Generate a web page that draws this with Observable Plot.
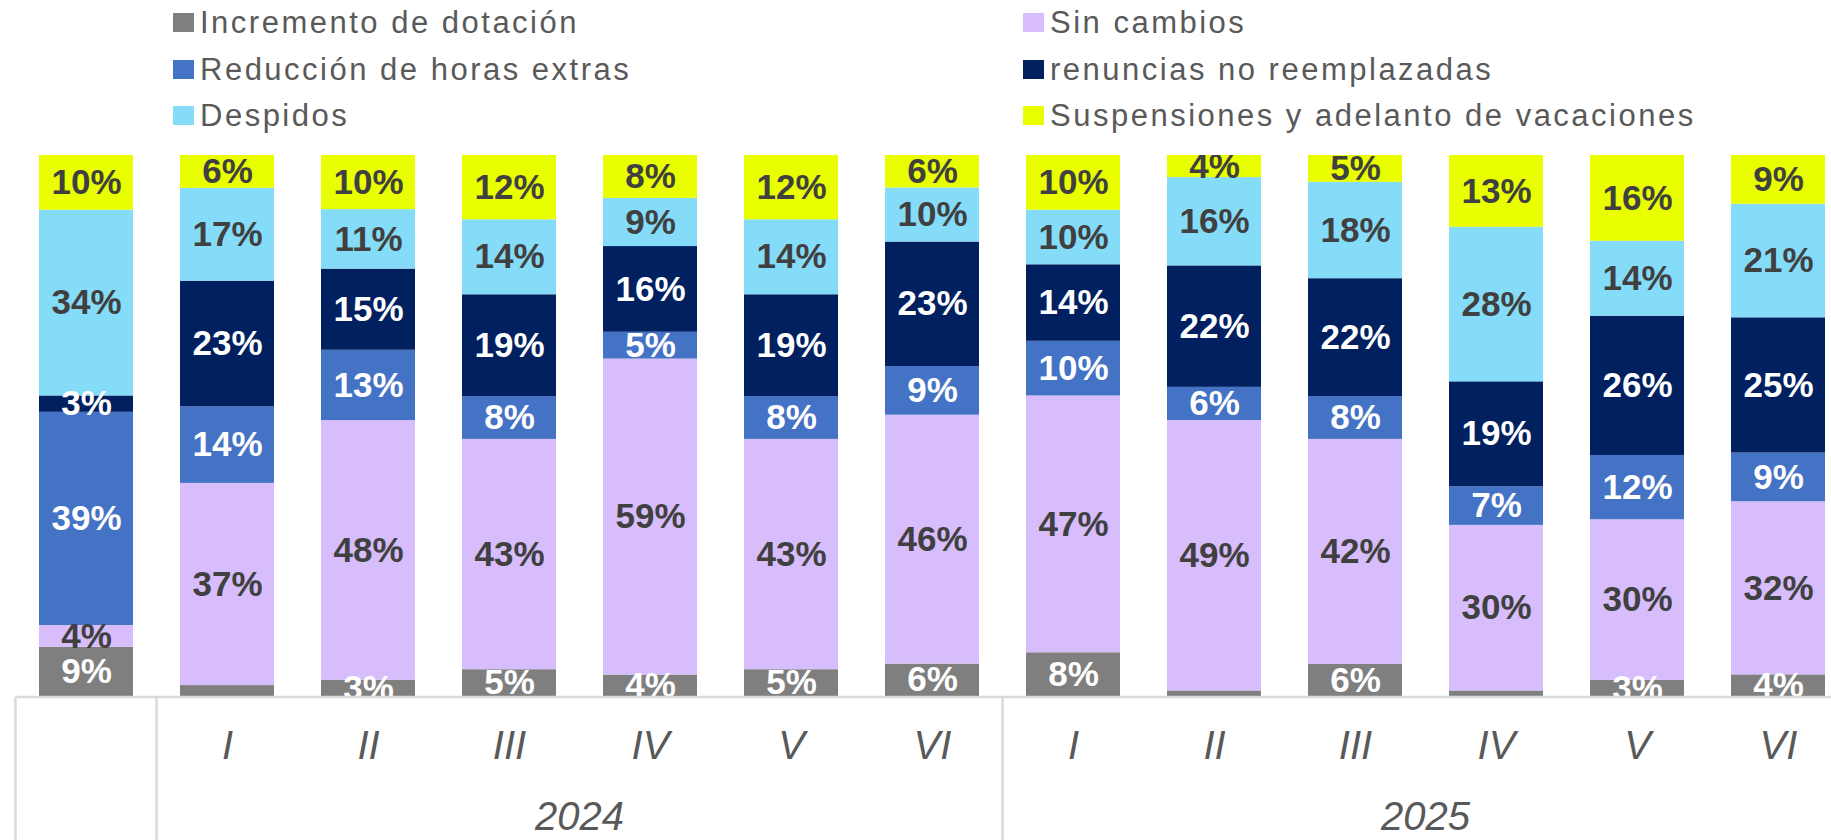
<!DOCTYPE html>
<html><head><meta charset="utf-8">
<script src="https://cdn.jsdelivr.net/npm/d3@7"></script>
<script src="https://cdn.jsdelivr.net/npm/@observablehq/plot@0.6"></script>
<style>
body{margin:0;background:#fff;width:1831px;height:840px;overflow:hidden;font-family:"Liberation Sans",Arial,sans-serif;}
#legend{position:relative;height:145px;width:1831px;}
.item{position:absolute;font-size:31px;line-height:31px;letter-spacing:2.5px;color:#595959;white-space:nowrap;}
.sw{position:absolute;width:21px;height:19px;left:-27px;top:6px;}
#chart svg{display:block;}
</style></head><body>
<div id="legend"></div>
<div id="chart"></div>
<script>
// Categories (stack order bottom -> top)
const categories = ["Incremento de dotación","Sin cambios","Reducción de horas extras","renuncias no reemplazadas","Despidos","Suspensiones y adelanto de vacaciones"];
const colors = ["#7f7f7f","#d7bdfb","#4472c4","#002060","#85dcf9","#e9ff00"];
// Tick labels
const periodLabels = ["","I","II","III","IV","V","VI","I","II","III","IV","V","VI"];
const yearLabels = ["","2024","2024","2024","2024","2024","2024","2025","2025","2025","2025","2025","2025"];
// Series values (%)
const incremento   = [9, 2, 3, 5, 4, 5, 6, 8, 1, 6, 1, 3, 4];
const sinCambios   = [4,37,48,43,59,43,46,47,49,42,30,30,32];
const reduccion    = [39,14,13, 8, 5, 8, 9,10, 6, 8, 7,12, 9];
const renuncias    = [3,23,15,19,16,19,23,14,22,22,19,26,25];
const despidos     = [34,17,11,14, 9,14,10,10,16,18,28,14,21];
const suspensiones = [10, 6,10,12, 8,12, 6,10, 4, 5,13,16, 9];

const series = [incremento, sinCambios, reduccion, renuncias, despidos, suspensiones];
const ids = periodLabels.map((p, i) => String(i));
const rows = [];
categories.forEach((c, ci) => series[ci].forEach((v, i) => rows.push({id: ids[i], cat: c, value: v})));

const darkCats = new Set([categories[1], categories[4], categories[5]]);
const FONT = "Liberation Sans, Arial, sans-serif";

// Legend
const legend = document.getElementById("legend");
categories.forEach((c, i) => {
  const col = i % 2, row = Math.floor(i / 2);
  const it = document.createElement("div");
  it.className = "item";
  it.style.left = (col === 0 ? 200 : 1050) + "px";
  it.style.top = (7 + row * 46.5) + "px";
  const sw = document.createElement("span");
  sw.className = "sw";
  sw.style.background = colors[i];
  it.appendChild(sw);
  it.appendChild(document.createTextNode(c));
  legend.appendChild(it);
});

const stackOpts = {x: "id", y: "value", z: "cat", offset: "normalize", order: categories};

const chart = Plot.plot({
  width: 1831, height: 695,
  marginTop: 10, marginBottom: 144, marginLeft: 0, marginRight: 0,
  style: {fontFamily: FONT, background: "#fff"},
  x: {type: "band", domain: ids, range: [12.5, 1852], paddingInner: 0.336, paddingOuter: 0.168, axis: null},
  y: {domain: [0, 1], axis: null},
  color: {domain: categories, range: colors},
  marks: [
    Plot.barY(rows, Plot.stackY({...stackOpts, fill: "cat"})),
    Plot.text(rows, Plot.stackY({...stackOpts,
      text: d => darkCats.has(d.cat) && d.value >= 3 ? d.value + "%" : "",
      fill: "#404040", fontSize: 35, fontWeight: "bold", fontFamily: FONT, clip: "frame"})),
    Plot.text(rows, Plot.stackY({...stackOpts,
      text: d => !darkCats.has(d.cat) && d.value >= 3 ? d.value + "%" : "",
      fill: "#ffffff", fontSize: 35, fontWeight: "bold", fontFamily: FONT, clip: "frame"})),
    Plot.text(ids, {x: d => d, text: (d, i) => periodLabels[i], frameAnchor: "bottom", lineAnchor: "bottom",
      dy: 62, fontSize: 40, fontStyle: "italic", fill: "#595959", fontFamily: FONT})
  ]
});
document.getElementById("chart").appendChild(chart);

// Category table below the bars, positioned with the plot's own scales
const xs = chart.scale("x"), ys = chart.scale("y");
const step = xs.step, bw = xs.bandwidth;
const center = id => xs.apply(id) + bw / 2;
const y0 = ys.apply(0);
const svg = d3.select(chart);
const g = svg.append("g").attr("stroke", "#d9d9d9").attr("stroke-width", 2.5);
g.append("line").attr("x1", center(ids[0]) - step / 2).attr("x2", 1831).attr("y1", y0 + 1).attr("y2", y0 + 1);
const seps = [center(ids[0]) - step / 2];
const years = [...new Set(yearLabels.filter(y => y))];
years.forEach(yr => {
  const grp = ids.filter((id, i) => yearLabels[i] === yr);
  seps.push(center(grp[0]) - step / 2);
});
seps.forEach(x => g.append("line").attr("x1", x).attr("x2", x).attr("y1", y0 + 1).attr("y2", 695));
years.forEach(yr => {
  const grp = ids.filter((id, i) => yearLabels[i] === yr);
  const cx = d3.mean(grp, center);
  svg.append("text").attr("x", cx).attr("y", y0 + 134).attr("text-anchor", "middle")
    .attr("font-size", 40).attr("font-style", "italic").attr("fill", "#595959")
    .attr("font-family", FONT).text(yr);
});
</script>
</body></html>
